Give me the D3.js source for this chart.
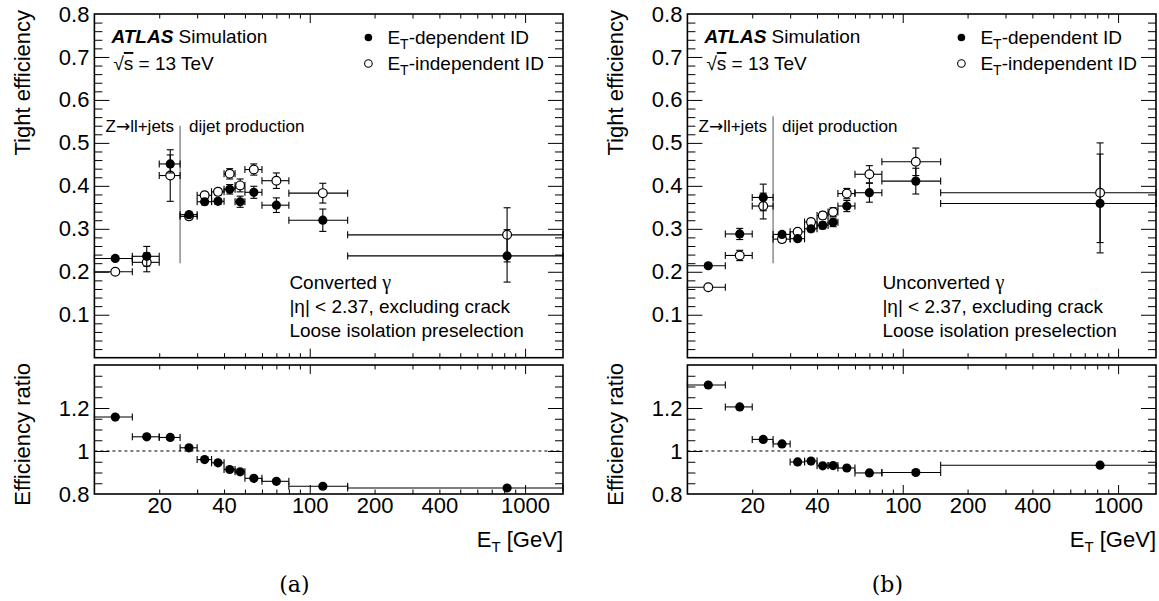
<!DOCTYPE html>
<html>
<head>
<meta charset="utf-8">
<script src="https://cdn.jsdelivr.net/npm/d3@7"></script>
<style>
  html, body { margin: 0; padding: 0; background: #fff; }
  svg { display: block; }
  text { font-family: "Liberation Sans", Arial, Helvetica, sans-serif; fill: #000; }
</style>
</head>
<body>
<svg id="chart" width="1159" height="601"></svg>
<script>
// ---------------- DATA ----------------
const binLow    = [10, 15, 20, 25, 30, 35, 40, 45, 50, 60, 80, 150];
const binHigh   = [15, 20, 25, 30, 35, 40, 45, 50, 60, 80, 150, 1500];
const binCenter = [12.5, 17.5, 22.5, 27.5, 32.5, 37.5, 42.5, 47.5, 55, 70, 115, 825];

// (a) converted photons
const convDep      = [0.231, 0.236, 0.451, 0.333, 0.363, 0.364, 0.392, 0.363, 0.385, 0.355, 0.320, 0.237];
const convDepErr   = [0.004, 0.023, 0.021, 0.006, 0.007, 0.007, 0.011, 0.013, 0.014, 0.017, 0.026, 0.061];
const convIndep    = [0.200, 0.222, 0.424, 0.329, 0.378, 0.386, 0.428, 0.401, 0.438, 0.412, 0.383, 0.286];
const convIndepErr = [0.004, 0.022, 0.060, 0.005, 0.007, 0.007, 0.012, 0.015, 0.013, 0.018, 0.023, 0.063];
const convRatio    = [1.158, 1.066, 1.063, 1.015, 0.960, 0.945, 0.914, 0.903, 0.873, 0.859, 0.836, 0.828];

// (b) unconverted photons
const unconvDep      = [0.214, 0.288, 0.373, 0.287, 0.277, 0.300, 0.308, 0.315, 0.353, 0.384, 0.411, 0.359];
const unconvDepErr   = [0.004, 0.013, 0.031, 0.005, 0.005, 0.007, 0.008, 0.010, 0.013, 0.022, 0.030, 0.115];
const unconvIndep    = [0.164, 0.238, 0.353, 0.276, 0.293, 0.316, 0.331, 0.339, 0.382, 0.427, 0.456, 0.384];
const unconvIndepErr = [0.004, 0.012, 0.030, 0.005, 0.006, 0.007, 0.008, 0.010, 0.012, 0.020, 0.032, 0.116];
const unconvRatio    = [1.307, 1.205, 1.054, 1.033, 0.949, 0.953, 0.931, 0.932, 0.921, 0.898, 0.900, 0.934];

// axis ticks / labels
const xDomain        = [10, 1500];
const xLabelTicks    = [20, 40, 100, 200, 400, 1000];
const effDomain      = [0, 0.8];
const effLabelTicks  = [0.1, 0.2, 0.3, 0.4, 0.5, 0.6, 0.7, 0.8];
const ratioDomain    = [0.8, 1.4];
const ratioLabelTicks= [0.8, 1, 1.2];
const sampleBoundary = 25;   // GeV, Z->ll+jets / dijet boundary

const legendLabels = ["-dependent ID", "-independent ID"];
const panelInfo = [
  { caption: "(a)", photon: "Converted ", dep: convDep,   depErr: convDepErr,   ind: convIndep,   indErr: convIndepErr,   ratio: convRatio,   lineTop: 0.540 },
  { caption: "(b)", photon: "Unconverted ", dep: unconvDep, depErr: unconvDepErr, ind: unconvIndep, indErr: unconvIndepErr, ratio: unconvRatio, lineTop: 0.562 }
];

// ---------------- LAYOUT ----------------
const svg = d3.select("#chart");
const panelX0 = [94.4, 687.4];
const panelW = 468.6;
const topY0 = 14, topY1 = 357.7;
const ratY0 = 365, ratY1 = 494;
const tickFont = 22, annFont = 19;

function inwardTicks(g, scale, vals, len, side, x0, x1, y0, y1) {
  const gen = side === "bottom" ? d3.axisBottom(scale) : side === "top" ? d3.axisTop(scale)
            : side === "left" ? d3.axisLeft(scale) : d3.axisRight(scale);
  const tr = side === "bottom" ? `translate(0,${y1})` : side === "top" ? `translate(0,${y0})`
           : side === "left" ? `translate(${x0},0)` : `translate(${x1},0)`;
  const a = g.append("g").attr("transform", tr)
    .call(gen.tickValues(vals).tickSize(-len).tickFormat(""));
  a.select(".domain").remove();
  a.selectAll("line").attr("stroke", "#000").attr("stroke-width", 1);
}

function range(a, b, step) { const r = []; for (let v = a; v <= b + 1e-9; v += step) r.push(+v.toFixed(4)); return r; }

panelInfo.forEach((p, pi) => {
  const x0 = panelX0[pi], x1 = x0 + panelW;
  const g = svg.append("g");
  const x = d3.scaleLog().domain(xDomain).range([x0, x1]);
  const yT = d3.scaleLinear().domain(effDomain).range([topY1, topY0]);
  const yR = d3.scaleLinear().domain(ratioDomain).range([ratY1, ratY0]);

  const allLogTicks = x.ticks().filter(v => v > xDomain[0] && v < xDomain[1]);
  const majorLog = allLogTicks.filter(v => Math.abs(Math.log10(v) - Math.round(Math.log10(v))) < 1e-9);
  const minorLog = allLogTicks.filter(v => !majorLog.includes(v));
  const effMinor = range(0.02, 0.78, 0.02).filter(v => Math.abs(v*10 - Math.round(v*10)) > 1e-6);
  const ratMinor = [0.85, 0.9, 0.95, 1.05, 1.1, 1.15, 1.25, 1.3, 1.35];

  // ---- ticks: top pad ----
  inwardTicks(g, yT, range(0.1, 0.7, 0.1), 15, "left", x0, x1);
  inwardTicks(g, yT, effMinor, 8, "left", x0, x1);
  inwardTicks(g, yT, range(0.1, 0.7, 0.1), 15, "right", x0, x1);
  inwardTicks(g, yT, effMinor, 8, "right", x0, x1);
  inwardTicks(g, x, majorLog, 9, "bottom", x0, x1, topY0, topY1);
  inwardTicks(g, x, minorLog, 4.5, "bottom", x0, x1, topY0, topY1);
  inwardTicks(g, x, majorLog, 9, "top", x0, x1, topY0, topY1);
  inwardTicks(g, x, minorLog, 4.5, "top", x0, x1, topY0, topY1);

  // ---- ticks: ratio pad ----
  inwardTicks(g, yR, [1.0, 1.2], 15, "left", x0, x1);
  inwardTicks(g, yR, ratMinor, 8, "left", x0, x1);
  inwardTicks(g, yR, [1.0, 1.2], 15, "right", x0, x1);
  inwardTicks(g, yR, ratMinor, 8, "right", x0, x1);
  inwardTicks(g, x, majorLog, 9, "bottom", x0, x1, ratY0, ratY1);
  inwardTicks(g, x, minorLog, 4.5, "bottom", x0, x1, ratY0, ratY1);
  inwardTicks(g, x, majorLog, 9, "top", x0, x1, ratY0, ratY1);
  inwardTicks(g, x, minorLog, 4.5, "top", x0, x1, ratY0, ratY1);

  // ---- tick labels ----
  const yl = g.append("g").attr("transform", `translate(${x0},0)`)
    .call(d3.axisLeft(yT).tickValues(effLabelTicks).tickSize(0).tickPadding(5).tickFormat(d3.format(".1f")));
  yl.select(".domain").remove();
  yl.selectAll("text").attr("font-size", tickFont).attr("font-family", "Liberation Sans, Arial, sans-serif");

  const rl = g.append("g").attr("transform", `translate(${x0},0)`)
    .call(d3.axisLeft(yR).tickValues(ratioLabelTicks).tickSize(0).tickPadding(5).tickFormat(d => String(d)));
  rl.select(".domain").remove();
  rl.selectAll("text").attr("font-size", tickFont).attr("font-family", "Liberation Sans, Arial, sans-serif");

  const xl = g.append("g").attr("transform", `translate(0,${ratY1})`)
    .call(d3.axisBottom(x).tickValues(xLabelTicks).tickSize(0).tickPadding(3).tickFormat(d => String(d)));
  xl.select(".domain").remove();
  xl.selectAll("text").attr("font-size", tickFont).attr("font-family", "Liberation Sans, Arial, sans-serif");

  // ---- frames ----
  g.append("rect").attr("x", x0).attr("y", topY0).attr("width", panelW).attr("height", topY1 - topY0)
    .attr("fill", "none").attr("stroke", "#000").attr("stroke-width", 1.6);
  g.append("rect").attr("x", x0).attr("y", ratY0).attr("width", panelW).attr("height", ratY1 - ratY0)
    .attr("fill", "none").attr("stroke", "#000").attr("stroke-width", 1.6);

  // ---- axis titles ----
  g.append("text").attr("transform", `translate(${x0 - 64},${topY0 - 4}) rotate(-90)`)
    .attr("text-anchor", "end").attr("font-size", tickFont).text("Tight efficiency");
  g.append("text").attr("transform", `translate(${x0 - 64},${ratY0 - 2}) rotate(-90)`)
    .attr("text-anchor", "end").attr("font-size", tickFont).text("Efficiency ratio");
  const xt = g.append("text").attr("x", x1).attr("y", 547).attr("text-anchor", "end").attr("font-size", tickFont);
  xt.append("tspan").text("E");
  xt.append("tspan").attr("font-size", 15).attr("dy", 5).text("T");
  xt.append("tspan").attr("dy", -5).text(" [GeV]");

  // ---- sample boundary line and labels ----
  g.append("line").attr("x1", x(sampleBoundary)).attr("x2", x(sampleBoundary))
    .attr("y1", yT(p.lineTop)).attr("y2", yT(0.22)).attr("stroke", "#8c8c8c").attr("stroke-width", 1.5);
  const zt = g.append("text").attr("x", x(sampleBoundary) - 6).attr("y", 131.5).attr("text-anchor", "end").attr("font-size", 17);
  zt.append("tspan").text("Z");
  zt.append("tspan").style("font-family", "'DejaVu Sans', sans-serif").attr("font-size", 17).text("→");
  zt.append("tspan").text("ll+jets");
  g.append("text").attr("x", x(sampleBoundary) + 9).attr("y", 131.5)
    .attr("font-size", 17).text("dijet production");

  // ---- data: error bars and markers ----
  const series = [
    { v: p.ind, e: p.indErr, filled: false },
    { v: p.dep, e: p.depErr, filled: true }
  ];
  const cap = 3.5;
  const drawPoints = (vals, errs, filled, yS) => {
    const pg = g.append("g");
    vals.forEach((v, i) => {
      const cx = x(binCenter[i]), cy = yS(v);
      const xl0 = x(binLow[i]), xh0 = x(binHigh[i]);
      pg.append("line").attr("x1", xl0).attr("x2", xh0).attr("y1", cy).attr("y2", cy).attr("stroke", "#000").attr("stroke-width", 1.1);
      [xl0, xh0].forEach(xx => pg.append("line").attr("x1", xx).attr("x2", xx).attr("y1", cy - cap).attr("y2", cy + cap).attr("stroke", "#000").attr("stroke-width", 1.1));
      if (errs) {
        const yt = yS(v + errs[i]), yb = yS(v - errs[i]);
        pg.append("line").attr("x1", cx).attr("x2", cx).attr("y1", yt).attr("y2", yb).attr("stroke", "#000").attr("stroke-width", 1.1);
        [yt, yb].forEach(yy => pg.append("line").attr("x1", cx - cap).attr("x2", cx + cap).attr("y1", yy).attr("y2", yy).attr("stroke", "#000").attr("stroke-width", 1.1));
      }
    });
    vals.forEach((v, i) => {
      pg.append("circle").attr("cx", x(binCenter[i])).attr("cy", yS(v)).attr("r", filled ? 4.6 : 4.4)
        .attr("fill", filled ? "#000" : "#fff").attr("stroke", "#000").attr("stroke-width", filled ? 0 : 1.2);
    });
  };
  series.forEach(s => drawPoints(s.v, s.e, s.filled, yT));

  // ratio
  g.append("line").attr("x1", x0).attr("x2", x1).attr("y1", yR(1)).attr("y2", yR(1))
    .attr("stroke", "#000").attr("stroke-width", 1).attr("stroke-dasharray", "3,3");
  drawPoints(p.ratio, null, true, yR);

  // ---- annotations ----
  const at = g.append("text").attr("x", x0 + 17).attr("y", 42.5).attr("font-size", annFont);
  at.append("tspan").attr("font-weight", "bold").attr("font-style", "italic").text("ATLAS");
  at.append("tspan").text(" Simulation");
  const st = g.append("text").attr("x", x0 + 19).attr("y", 70).attr("font-size", annFont);
  st.append("tspan").text("√");
  st.append("tspan").style("text-decoration", "overline").text("s");
  st.append("tspan").text(" = 13 TeV");

  legendLabels.forEach((lab, li) => {
    const ly = 37.5 + li * 26;
    g.append("circle").attr("cx", x0 + 274).attr("cy", ly).attr("r", 3.8)
      .attr("fill", li === 0 ? "#000" : "#fff").attr("stroke", "#000").attr("stroke-width", li === 0 ? 0 : 1.1);
    const t = g.append("text").attr("x", x0 + 293).attr("y", ly + 6.5).attr("font-size", annFont);
    t.append("tspan").text("E");
    t.append("tspan").attr("font-size", 14).attr("dy", 5).text("T");
    t.append("tspan").attr("dy", -5).text(lab);
  });

  const infoLines = [p.photon, "|η| < 2.37, excluding crack", "Loose isolation preselection"];
  infoLines.forEach((s, k) => {
    const t = g.append("text").attr("x", x0 + 195).attr("y", 289 + k * 24).attr("font-size", annFont).text(s);
    if (k === 0) t.append("tspan").style("font-family", "'Liberation Serif', serif").attr("font-size", 20).text("γ");
  });

  // caption
  svg.append("text").attr("x", x0 + 200).attr("y", 592).attr("text-anchor", "middle")
    .attr("font-size", 22).style("font-family", "'DejaVu Serif', 'Liberation Serif', serif").text(p.caption);
});
</script>
</body>
</html>
